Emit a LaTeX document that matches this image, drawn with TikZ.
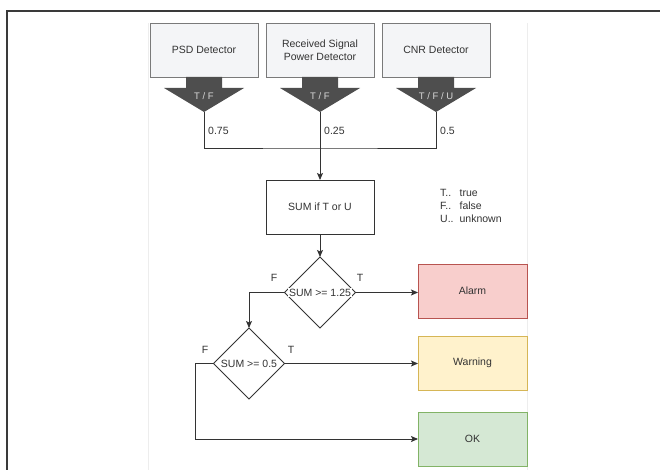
\documentclass[tikz,border=0pt]{standalone}
\usepackage{fontspec}
\setmainfont{Liberation Sans}
\usetikzlibrary{shapes.geometric,arrows.meta,calc}

\definecolor{inkc}{HTML}{333333}
\definecolor{framec}{HTML}{3A3A3A}
\definecolor{areac}{HTML}{EDEDED}
\definecolor{detfill}{HTML}{F4F5F7}
\definecolor{detline}{HTML}{7A7A7A}
\definecolor{outgray}{HTML}{4E4E4E}
\definecolor{alarmfill}{HTML}{F8CECC}
\definecolor{alarmline}{HTML}{B85450}
\definecolor{warnfill}{HTML}{FFF2CC}
\definecolor{warnline}{HTML}{D6B656}
\definecolor{okfill}{HTML}{D5E8D4}
\definecolor{okline}{HTML}{82B366}

\tikzset{
  basebox/.style={rectangle, minimum width=108pt, minimum height=54pt,
    inner sep=2pt, outer sep=0pt, align=center, text=inkc},
  detbox/.style={basebox, fill=detfill, draw=detline, line width=0.8pt},
  sumbox/.style={basebox, fill=white, draw=black!80, line width=0.9pt},
  resbox/.style={basebox, minimum width=109pt, line width=0.8pt},
  decision/.style={diamond, minimum width=71pt, minimum height=71pt,
    inner sep=0pt, outer sep=0pt, draw=inkc, line width=0.8pt, fill=white},
  dtext/.style={fill=white, inner sep=0.6pt, text=inkc},
  outlabel/.style={text=white!85!black, font=\fontsize{9.5}{11}\selectfont, inner sep=0pt},
  wlabel/.style={anchor=west, inner sep=0pt, text=inkc},
  blabel/.style={inner sep=0pt, text=inkc},
  wire/.style={draw=inkc, line width=0.9pt},
  conn/.style={wire, -{Stealth[length=7pt,width=6pt,inset=1.5pt]}},
  outshape/.style={fill=outgray}
}

\begin{document}
\begin{tikzpicture}[x=1pt, y=-1pt, font=\fontsize{10.5}{13}\selectfont]
\useasboundingbox (0,0) rectangle (660,470);

% outer frame and the light edge of the drawing area
\draw[framec, line width=1.5pt] (7,470) -- (7,11) -- (660,11);
\draw[areac, line width=0.8pt] (148,470) -- (148,23) (527,23) -- (527,470);

% detectors
\node[detbox] (psd) at (204,50) {PSD Detector};
\node[detbox] (rsp) at (320,50) {Received Signal\\Power Detector};
\node[detbox] (cnr) at (436,50) {CNR Detector};

% block arrows below each detector
\foreach \d in {psd,rsp,cnr}{
  \fill[outshape] ($(\d.south)+(-18,0)$) -- ($(\d.south)+(18,0)$)
    -- ($(\d.south)+(18,11)$) -- ($(\d.south)+(40,11)$)
    -- ($(\d.south)+(0,35)$) -- ($(\d.south)+(-40,11)$)
    -- ($(\d.south)+(-18,11)$) -- cycle;
  \coordinate (\d tip) at ($(\d.south)+(0,35)$);
}
\node[outlabel] (psdout) at ($(psd.south)+(0,19)$) {T / F};
\node[outlabel] (rspout) at ($(rsp.south)+(0,19)$) {T / F};
\node[outlabel] (cnrout) at ($(cnr.south)+(0,19)$) {T / F / U};

% weights
\node[wlabel] (w1) at (208,131) {0.75};
\node[wlabel] (w2) at (324,131) {0.25};
\node[wlabel] (w3) at (440,131) {0.5};

% collecting bus
\coordinate (bus) at (320,148);
\draw[wire] (psdtip) |- (bus) -| (cnrtip);

% sum
\node[sumbox] (sum) at (320,207) {SUM if T or U};
\draw[conn] (rsptip) -- (sum.north);

% legend
\node[anchor=north west, inner sep=0pt, text=inkc] (legend) at (440,187)
  {\begin{tabular}{@{}l@{\hspace{6pt}}l@{}}T.. & true\\ F.. & false\\ U.. & unknown\end{tabular}};

% decisions
\node[decision] (d1) at (320,292.5) {};
\node[dtext] (d1t) at (d1) {SUM >= 1.25};
\node[decision] (d2) at (249,363.5) {};
\node[dtext] (d2t) at (d2) {SUM >= 0.5};
\draw[conn] (sum.south) -- (d1.north);

% outcomes
\node[resbox, fill=alarmfill, draw=alarmline] (alarm) at (472.5,291) {Alarm};
\node[resbox, fill=warnfill, draw=warnline] (warn) at (472.5,363) {Warning};
\node[resbox, fill=okfill, draw=okline] (ok) at (472.5,439) {OK};

% branches
\draw[conn] (d1.east) -- (d1.east -| alarm.west);
\draw[conn] (d1.west) -| (d2.north);
\draw[conn] (d2.east) -- (d2.east -| warn.west);
\coordinate (fbend) at (195,363.5);
\draw[conn] (d2.west) -- (fbend) |- (ok.west);

% branch labels
\node[blabel] (f1) at (274,278) {F};
\node[blabel] (t1) at (360,278) {T};
\node[blabel] (f2) at (205,350) {F};
\node[blabel] (t2) at (291,350) {T};
\end{tikzpicture}
\end{document}
